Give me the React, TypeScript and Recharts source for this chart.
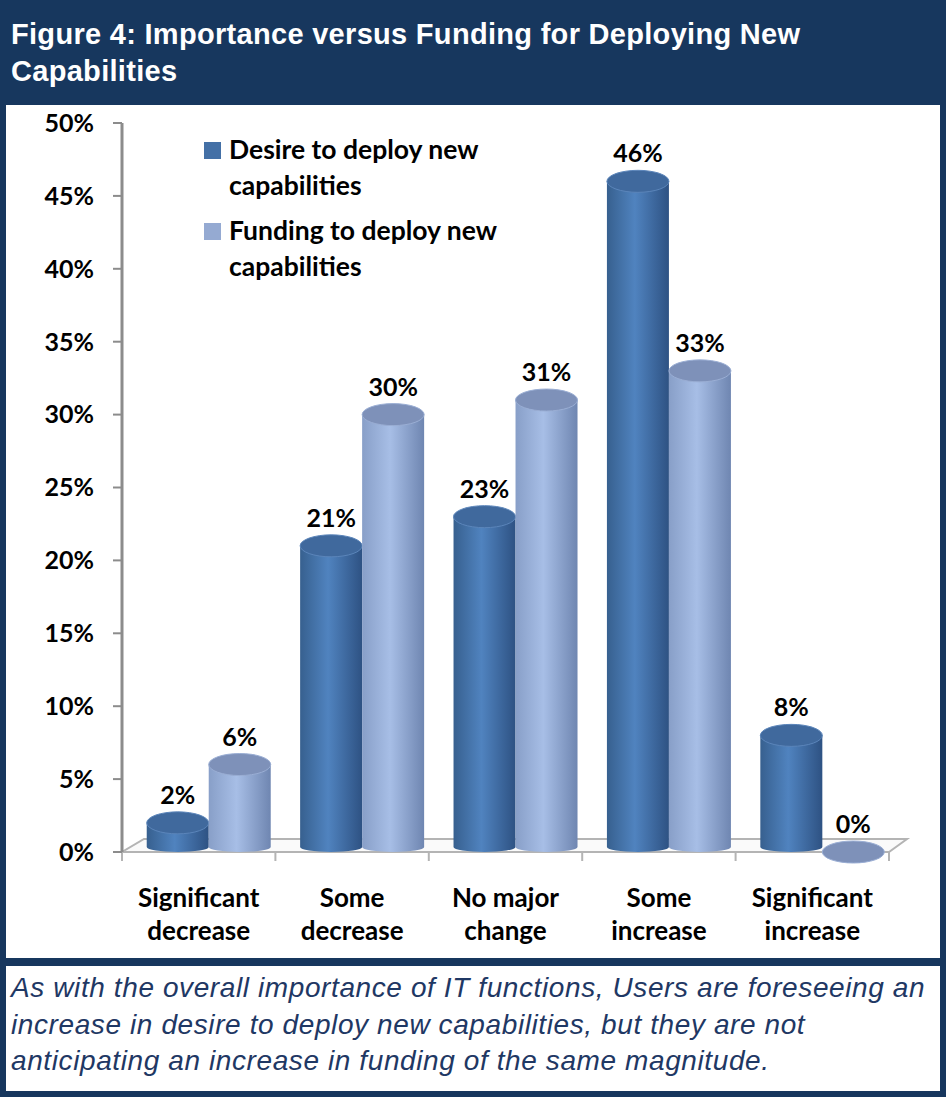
import { Bar, BarChart, LabelList, Legend, ReferenceArea, XAxis, YAxis } from "recharts";

const categories = [
  "Significant decrease",
  "Some decrease",
  "No major change",
  "Some increase",
  "Significant increase",
];
const desire = [2, 21, 23, 46, 8];
const funding = [6, 30, 31, 33, 0];
const seriesNames = ["Desire to deploy new capabilities", "Funding to deploy new capabilities"];
const yTicks = [0, 5, 10, 15, 20, 25, 30, 35, 40, 45, 50];

const data = categories.map((c, i) => ({ category: c, desire: desire[i], funding: funding[i] }));

const NAVY = "#17375E";
const FONT = "Lato, 'Open Sans', sans-serif";
const ARIAL = "'Liberation Sans', Arial, sans-serif";
const SHIFT = 10; // 3d-ish offset of the cylinders to the right of the category centre

// "Significant decrease" -> ["Significant", "decrease"]
const twoLines = (s: string) => {
  const i = s.lastIndexOf(" ");
  return [s.slice(0, i), s.slice(i + 1)];
};

const makeCylinder = (grad: string, top: string, edge: string) => (p: any) => {
  const x = p.x + SHIFT;
  const w = p.width;
  const y = p.y;
  const h = Math.max(p.height, 0);
  const rx = w / 2;
  const ry = 11;
  const base = y + h;
  return (
    <g>
      {h > 0 && (
        <path
          d={`M${x},${y} L${x},${base - 5} A${rx},5 0 0 0 ${x + w},${base - 5} L${x + w},${y} Z`}
          fill={`url(#${grad})`}
        />
      )}
      <ellipse cx={x + rx} cy={y} rx={rx} ry={ry} fill={top} stroke={edge} strokeWidth={1} />
    </g>
  );
};

const DesireCyl = makeCylinder("gDesire", "#40699D", "#5B85BA");
const FundingCyl = makeCylinder("gFunding", "#7E91B9", "#9AAED4");

const ValueLabel = (p: any) => (
  <text
    x={p.x + p.width / 2 + SHIFT}
    y={p.y - 19}
    textAnchor="middle"
    fontFamily={FONT}
    fontWeight={700}
    fontSize={25}
    fill="#000"
  >
    {`${p.value}%`}
  </text>
);

const Floor = (p: any) => {
  const { x, width } = p;
  const base = p.y + p.height;
  const n = categories.length;
  return (
    <g>
      <path
        d={`M${x},${base} L${x + width},${base} L${x + width + 18},${base - 13} L${x + 22},${base - 13} Z`}
        fill="#FAFAFA"
        stroke="#B4B4B4"
        strokeWidth={2}
      />
      {categories.concat([""]).map((_, i) => (
        <line
          key={i}
          x1={x + (i * width) / n}
          x2={x + (i * width) / n}
          y1={base}
          y2={base + 9}
          stroke="#B4B4B4"
          strokeWidth={2}
        />
      ))}
    </g>
  );
};

const CategoryTick = (p: any) => {
  const [a, b] = twoLines(p.payload.value);
  return (
    <text x={p.x} y={p.y} textAnchor="middle" fontFamily={FONT} fontWeight={700} fontSize={26} fill="#000">
      <tspan x={p.x} dy={55}>{a}</tspan>
      <tspan x={p.x} dy={33}>{b}</tspan>
    </text>
  );
};

const LegendBox = () => (
  <div style={{ fontFamily: FONT, fontWeight: 700, fontSize: 26.5, lineHeight: "36px", color: "#000" }}>
    {seriesNames.map((name, i) => (
      <div key={name} style={{ position: "relative", paddingLeft: 25, marginBottom: 9 }}>
        <span
          style={{
            position: "absolute",
            left: 0,
            top: 11,
            width: 17,
            height: 17,
            background: i === 0 ? "#4470A6" : "#95AAD2",
          }}
        />
        {twoLines(name).map((l) => (
          <div key={l}>{l}</div>
        ))}
      </div>
    ))}
  </div>
);

export default function App() {
  return (
    <div style={{ position: "absolute", left: 0, top: 0, width: 946, height: 1097, background: NAVY }}>
      <div
        style={{
          position: "absolute",
          left: 11,
          top: 16,
          color: "#fff",
          fontFamily: ARIAL,
          fontWeight: 700,
          fontSize: 29,
          letterSpacing: 0.3,
          lineHeight: "37px",
          whiteSpace: "nowrap",
        }}
      >
        Figure 4: Importance versus Funding for Deploying New
        <br />
        Capabilities
      </div>
      <div style={{ position: "absolute", left: 6, top: 105, width: 934, height: 853, background: "#fff" }} />
      <div style={{ position: "absolute", left: 0, top: 105 }}>
        <BarChart
          width={946}
          height={853}
          data={data}
          margin={{ top: 18, right: 57, left: 0, bottom: 0 }}
          barCategoryGap="9.6%"
          barGap={0}
        >
          <defs>
            <linearGradient id="gDesire" x1="0" y1="0" x2="1" y2="0">
              <stop offset="0%" stopColor="#37608F" />
              <stop offset="45%" stopColor="#5083BF" />
              <stop offset="100%" stopColor="#2E5283" />
            </linearGradient>
            <linearGradient id="gFunding" x1="0" y1="0" x2="1" y2="0">
              <stop offset="0%" stopColor="#889FC8" />
              <stop offset="45%" stopColor="#A7BEE6" />
              <stop offset="100%" stopColor="#6F86B1" />
            </linearGradient>
          </defs>
          <ReferenceArea y1={0} y2={0.5} shape={Floor} />
          <XAxis
            dataKey="category"
            axisLine={false}
            tickLine={false}
            tickSize={0}
            tickMargin={0}
            height={106}
            tick={CategoryTick}
            interval={0}
          />
          <YAxis
            domain={[0, 50]}
            ticks={yTicks}
            width={122}
            tickFormatter={(v) => `${v}%`}
            axisLine={{ stroke: "#8C8C8C", strokeWidth: 3 }}
            tickLine={{ stroke: "#8C8C8C", strokeWidth: 2 }}
            tickSize={9}
            tickMargin={19}
            tick={{ fontFamily: FONT, fontWeight: 700, fontSize: 25, fill: "#000" }}
          />
          <Legend
            layout="vertical"
            align="center"
            verticalAlign="middle"
            wrapperStyle={{ top: 26, left: 204, width: 330 }}
            content={LegendBox}
          />
          <Bar dataKey="desire" name={seriesNames[0]} shape={DesireCyl} isAnimationActive={false}>
            <LabelList dataKey="desire" content={ValueLabel} />
          </Bar>
          <Bar dataKey="funding" name={seriesNames[1]} shape={FundingCyl} isAnimationActive={false}>
            <LabelList dataKey="funding" content={ValueLabel} />
          </Bar>
        </BarChart>
      </div>
      <div
        style={{
          position: "absolute",
          left: 6,
          top: 966,
          width: 934,
          height: 125,
          background: "#fff",
          boxSizing: "border-box",
          padding: "4px 0 0 5px",
          color: "#1F3864",
          fontFamily: ARIAL,
          fontStyle: "italic",
          fontSize: 28,
          letterSpacing: 0.6,
          lineHeight: "36.5px",
          whiteSpace: "nowrap",
        }}
      >
        As with the overall importance of IT functions, Users are foreseeing an
        <br />
        increase in desire to deploy new capabilities, but they are not
        <br />
        anticipating an increase in funding of the same magnitude.
      </div>
    </div>
  );
}
